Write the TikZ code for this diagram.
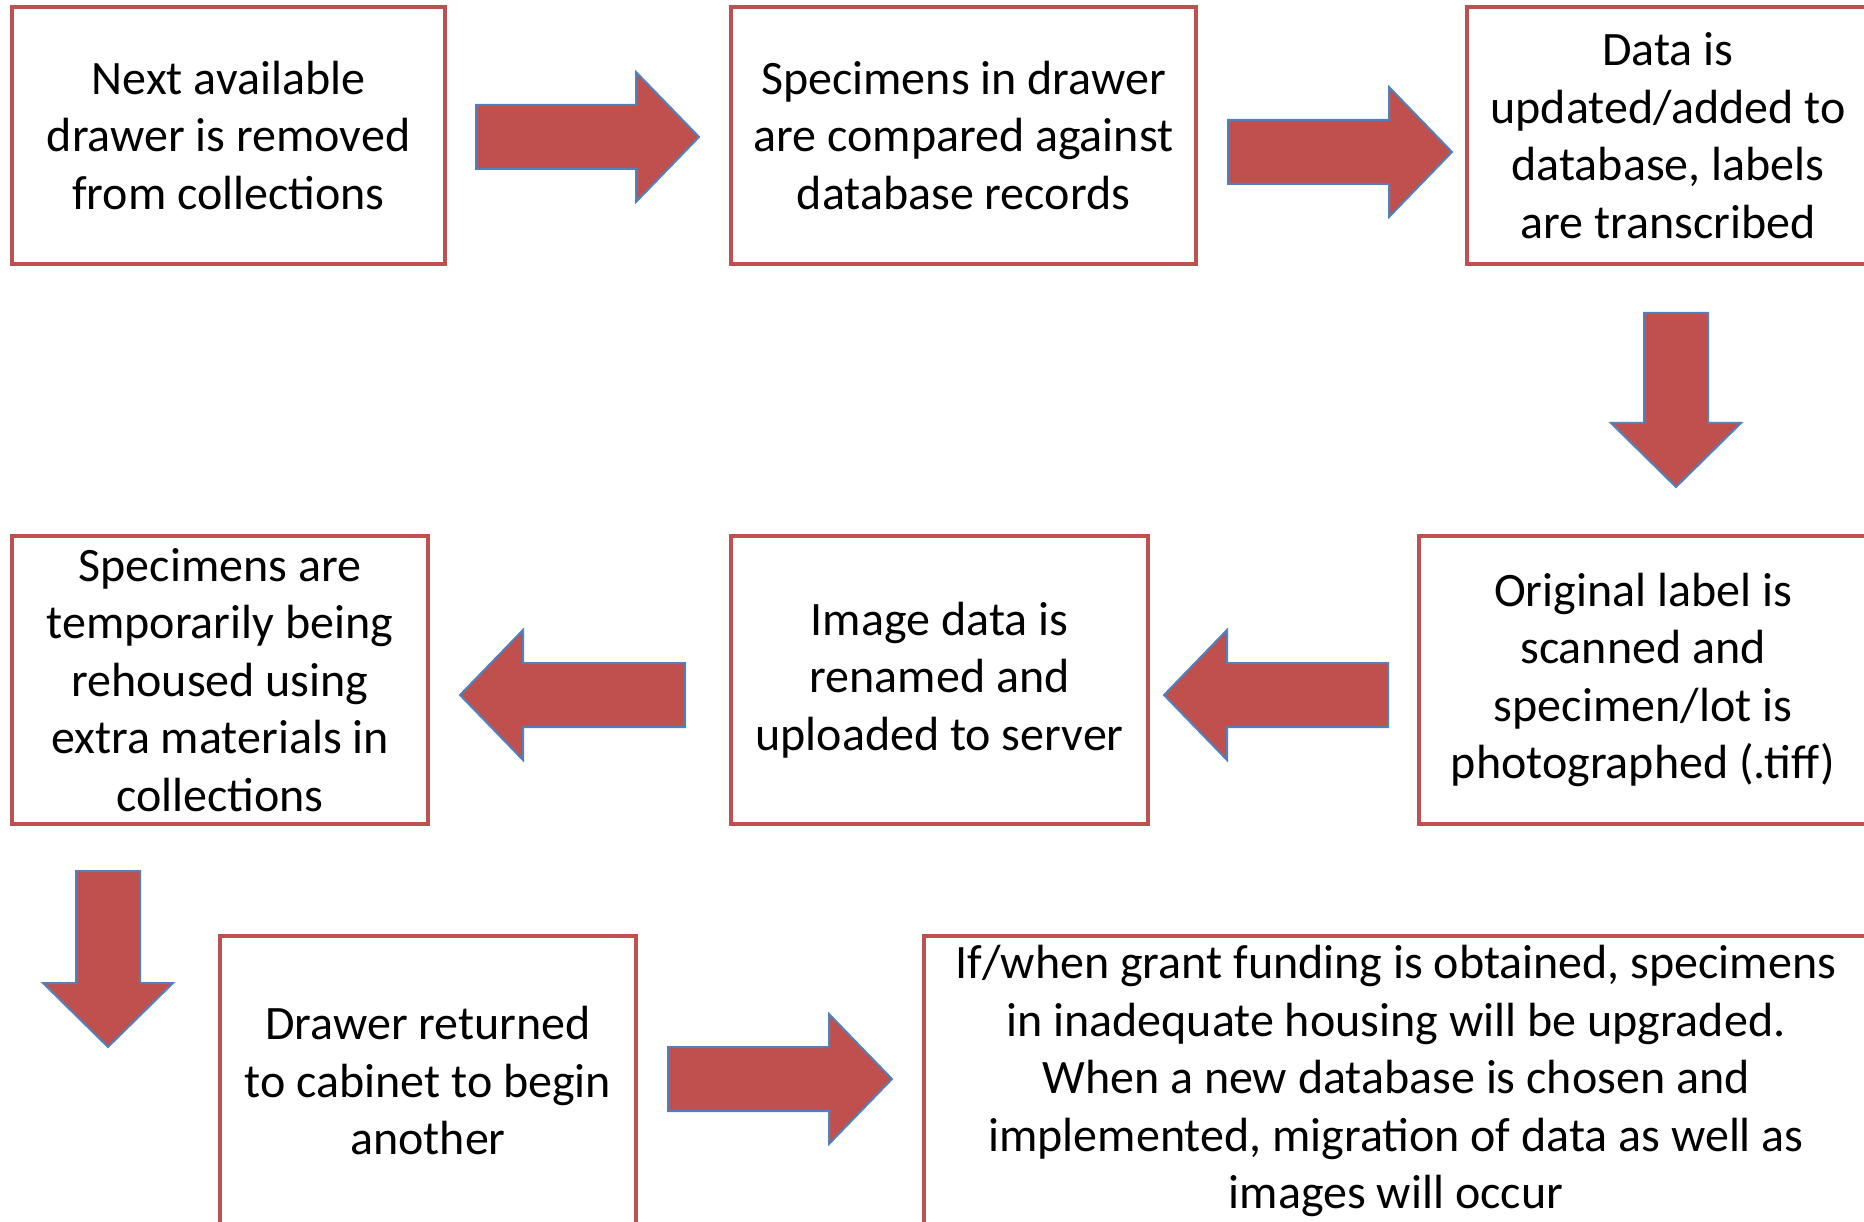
\documentclass[tikz,border=0pt]{standalone}
\usepackage{fontspec}
\setmainfont{Carlito}
\definecolor{boxred}{HTML}{C0504D}
\definecolor{arrblue}{HTML}{4F81BD}
\tikzset{
  stepbox/.style={draw=boxred, line width=4pt, fill=white, inner sep=0pt, align=center,
    font=\fontsize{48}{57.5}\selectfont},
  blockarrow/.style={fill=boxred, draw=arrblue, line width=2pt, line join=miter}
}
% right arrow: #1 x start, #2 x tip, #3 y centre
\newcommand{\rightblock}[3]{%
  \draw[blockarrow] (#1,#3-32) -- (#2-63,#3-32) -- (#2-63,#3-65) -- (#2,#3) -- (#2-63,#3+65) -- (#2-63,#3+32) -- (#1,#3+32) -- cycle;}
\newcommand{\leftblock}[3]{%
  \draw[blockarrow] (#1,#3-32) -- (#2+63,#3-32) -- (#2+63,#3-65) -- (#2,#3) -- (#2+63,#3+65) -- (#2+63,#3+32) -- (#1,#3+32) -- cycle;}
\newcommand{\downblock}[3]{%
  \draw[blockarrow] (#3-32,#1) -- (#3-32,#2-64) -- (#3-65,#2-64) -- (#3,#2) -- (#3+65,#2-64) -- (#3+32,#2-64) -- (#3+32,#1) -- cycle;}
\begin{document}
\begin{tikzpicture}[x=1pt,y=-1pt]
\useasboundingbox (0,0) rectangle (1864,1222);
\clip (0,0) rectangle (1864,1222);

\node[stepbox, minimum width=433pt, minimum height=257pt] (b1) at (228.5,135.5)
  {Next available\\drawer is removed\\from collections};
\node[stepbox, minimum width=465pt, minimum height=257pt] (b2) at (963.5,135.5)
  {Specimens in drawer\\are compared against\\database records};
\node[stepbox, minimum width=402pt, minimum height=257pt] (b3) at (1668,135.5)
  {Data is\\updated/added to\\database, labels\\are transcribed};
\node[stepbox, minimum width=448pt, minimum height=288pt] (b4) at (1643,680)
  {Original label is\\scanned and\\specimen/lot is\\photographed (.tiff)};
\node[stepbox, minimum width=417pt, minimum height=288pt] (b5) at (939.5,680)
  {Image data is\\renamed and\\uploaded to server};
\node[stepbox, minimum width=416pt, minimum height=288pt] (b6) at (220,680)
  {Specimens are\\temporarily being\\rehoused using\\extra materials in\\collections};
\node[stepbox, minimum width=416pt, minimum height=290pt] (b7) at (428,1081)
  {Drawer returned\\to cabinet to begin\\another};
\node[stepbox, minimum width=944pt, minimum height=290pt] (b8) at (1396,1081)
  {If/when grant funding is obtained, specimens\\in inadequate housing will be upgraded.\\When a new database is chosen and\\implemented, migration of data as well as\\images will occur};

\rightblock{476}{699}{137}
\rightblock{1228}{1452}{152}
\downblock{313}{487}{1676}
\leftblock{1388}{1164}{695}
\leftblock{685}{460}{695}
\downblock{871}{1047}{108}
\rightblock{668}{892}{1079}
\end{tikzpicture}
\end{document}
